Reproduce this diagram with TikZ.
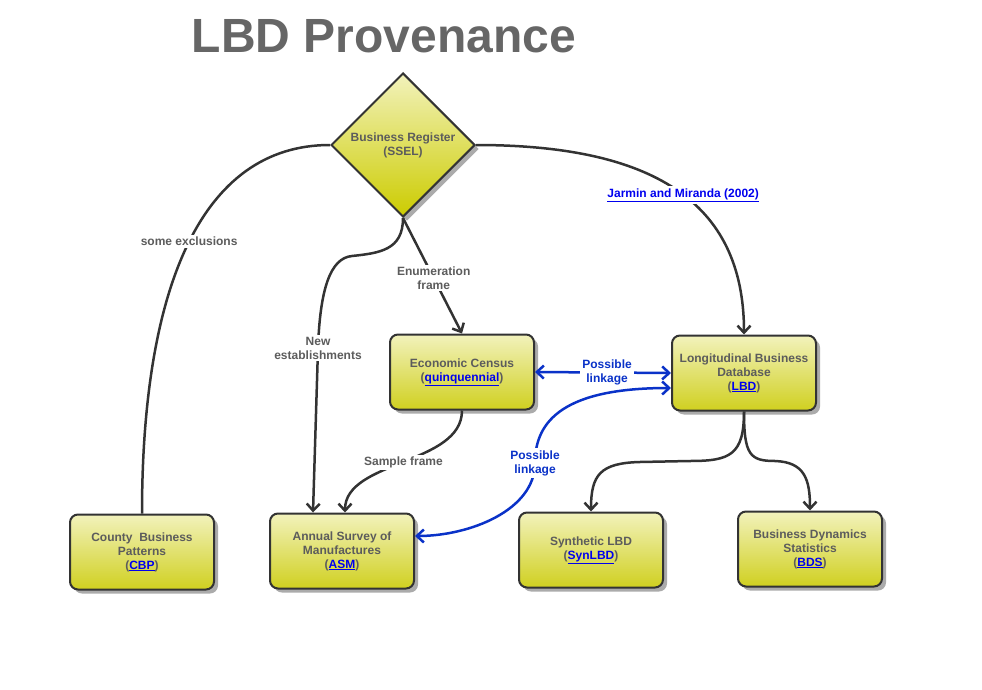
\documentclass[tikz,border=0pt]{standalone}
\usepackage{fontspec}
\setmainfont{Liberation Sans}
\usetikzlibrary{shapes.geometric,shadows,arrows.meta}

\definecolor{edgegray}{HTML}{333333}
\definecolor{textgray}{HTML}{5C5C5C}
\definecolor{titlegray}{HTML}{666666}
\definecolor{linkblue}{HTML}{0000EE}
\definecolor{linkageblue}{HTML}{0A32C8}
\definecolor{boxtop}{HTML}{F2F2BC}
\definecolor{boxbottom}{HTML}{D0D020}
\definecolor{diamondbottom}{HTML}{CCCC00}
\definecolor{shadowgray}{HTML}{ABABAB}

\newcommand\weblink[1]{\textcolor{linkblue}{\underline{#1}}}

\tikzset{
  box/.style={rectangle, rounded corners=8pt, draw=edgegray, line width=2pt,
    top color=boxtop, bottom color=boxbottom,
    minimum width=144pt, minimum height=75pt, align=center,
    drop shadow={shadow xshift=4pt, shadow yshift=-4pt, fill=shadowgray, opacity=1}},
  register/.style={diamond, aspect=1, draw=edgegray, line width=2pt,
    top color=boxtop, bottom color=diamondbottom,
    minimum width=144pt, minimum height=144pt, inner sep=0pt, align=center,
    drop shadow={shadow xshift=4pt, shadow yshift=-4pt, fill=shadowgray, opacity=1}},
  feed/.style={draw=edgegray, line width=2.5pt, -{Straight Barb[length=7pt,width=13pt]}},
  plainfeed/.style={draw=edgegray, line width=2.5pt},
  linkage/.style={draw=linkageblue, line width=2.5pt,
    {Straight Barb[length=7pt,width=13pt]}-{Straight Barb[length=7pt,width=13pt]}},
  lbl/.style={fill=white, align=center, inner sep=2pt},
  bluelbl/.style={lbl, text=linkageblue},
  title/.style={font=\fontsize{48}{56}\selectfont\bfseries, text=titlegray}
}

\begin{document}
\begin{tikzpicture}[x=1pt, y=-1pt,
    every node/.style={font=\fontsize{12}{14}\selectfont\bfseries, text=textgray}]
  \useasboundingbox (0,0) rectangle (982,690);

  % title
  \node[title] (title) at (384,36) {LBD Provenance};

  % nodes
  \node[register] (ssel)   at (403,145) {Business Register\\(SSEL)};
  \node[box]      (cbp)    at (142,552) {County\ \ Business\\Patterns\\(\weblink{CBP})};
  \node[box]      (asm)    at (342,551) {Annual Survey of\\Manufactures\\(\weblink{ASM})};
  \node[box]      (census) at (462,372) {Economic Census\\(\weblink{quinquennial})};
  \node[box]      (lbd)    at (744,373) {Longitudinal Business\\Database\\(\weblink{LBD})};
  \node[box]      (synlbd) at (591,550) {Synthetic LBD\\(\weblink{SynLBD})};
  \node[box]      (bds)    at (810,549) {Business Dynamics\\Statistics\\(\weblink{BDS})};

  % register to the products
  \draw[plainfeed] (ssel.west) .. controls (200,145) and (142,290) .. (cbp.north)
    node[lbl, pos=0.49] {some exclusions};
  \draw[feed] (ssel.south) .. controls (403,250) and (380,253) .. (352,256)
    .. controls (330,258) and (320,290) .. (318,348) node[lbl] {New\\establishments}
    -- ([xshift=-29pt]asm.north);
  \draw[feed] (ssel.south) -- node[lbl, pos=0.52] {Enumeration\\frame} (census.north);
  \draw[feed] (ssel.east) .. controls (650,145) and (744,200) .. (lbd.north)
    node[lbl, pos=0.53, text=linkblue] {\underline{Jarmin and Miranda (2002)}};

  % census and LBD
  \draw[feed] (census.south) .. controls (462,465) and (345,460) .. ([xshift=3pt]asm.north)
    node[lbl, pos=0.5] {Sample frame};
  \draw[linkage] (census.east) -- node[bluelbl, pos=0.53] {Possible\\linkage} (lbd.west);
  \draw[linkage] ([yshift=-15pt]lbd.west) .. controls (565,388) and (535,420) .. (535,463)
    node[bluelbl] {Possible\\linkage}
    .. controls (535,510) and (470,536) .. ([yshift=15pt]asm.east);
  \draw[feed] (lbd.south) .. controls (744,455) and (730,461) .. (690,461)
    -- (640,462) .. controls (600,463) and (591,475) .. (synlbd.north);
  \draw[feed] (lbd.south) .. controls (744,455) and (750,461) .. (775,461)
    .. controls (805,462) and (810,480) .. (bds.north);

\end{tikzpicture}
\end{document}
